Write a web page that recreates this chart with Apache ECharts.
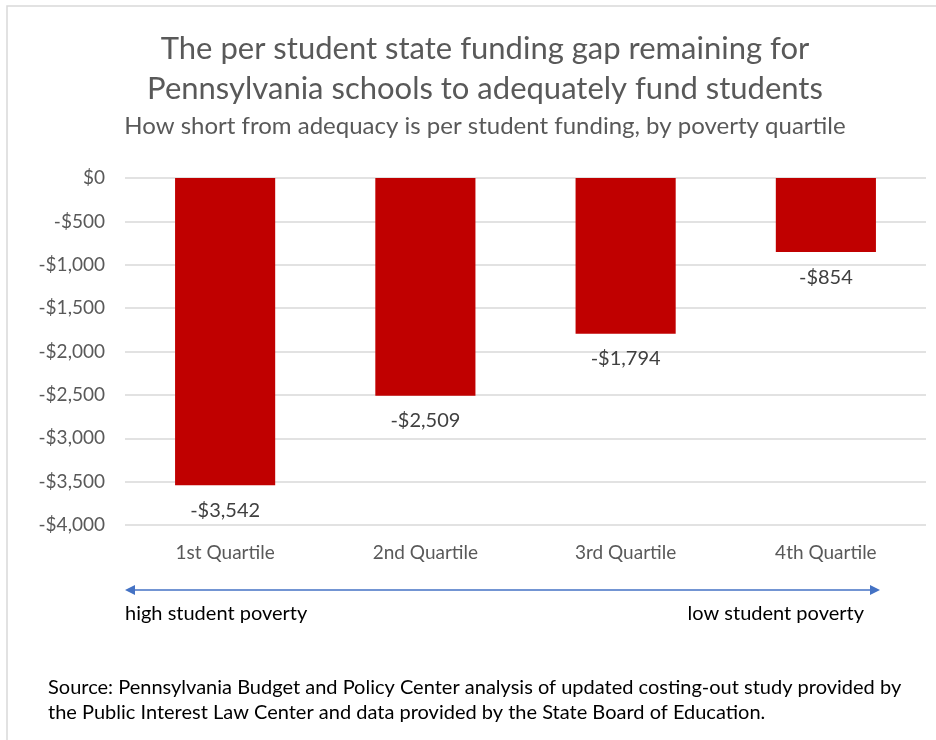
<!DOCTYPE html>
<html>
<head>
<meta charset="utf-8">
<script src="https://cdn.jsdelivr.net/npm/echarts@6/dist/echarts.min.js"></script>
<style>
  html, body { margin: 0; padding: 0; background: #fff; }
  #chart { width: 936px; height: 740px; }
</style>
</head>
<body>
<div id="chart"></div>
<script>
// Per student funding gap by poverty quartile
const quartiles = ['1st Quartile', '2nd Quartile', '3rd Quartile', '4th Quartile'];
const fundingGap = [-3542, -2509, -1794, -854];

const FONT = 'Lato, "Open Sans", sans-serif';

function money(v) {
  const s = Math.abs(v).toLocaleString('en-US');
  return (v < 0 ? '-$' : '$') + s;
}

const chart = echarts.init(document.getElementById('chart'), null, { renderer: 'canvas' });

const arrowY = 590, arrowX1 = 125, arrowX2 = 880;

chart.setOption({
  animation: false,
  backgroundColor: '#ffffff',
  title: [
    {
      text: 'The per student state funding gap remaining for\nPennsylvania schools to adequately fund students',
      left: 480, top: 24, textAlign: 'center',
      textStyle: { fontFamily: FONT, fontSize: 31, fontWeight: 'normal', color: '#595959', lineHeight: 40 }
    },
    {
      text: 'How short from adequacy is per student funding, by poverty quartile',
      left: 480, top: 109, textAlign: 'center',
      textStyle: { fontFamily: FONT, fontSize: 24, fontWeight: 'normal', color: '#595959' }
    }
  ],
  grid: { left: 125, right: 10, top: 178, bottom: 740 - 525 },
  xAxis: {
    type: 'category',
    data: quartiles,
    position: 'bottom',
    axisLine: { show: false },
    axisTick: { show: false },
    axisLabel: {
      fontFamily: FONT, fontSize: 19, color: '#595959', margin: 18
    }
  },
  yAxis: {
    type: 'value',
    min: -4000, max: 0, interval: 500,
    axisLine: { show: false },
    axisTick: { show: false },
    axisLabel: {
      fontFamily: FONT, fontSize: 19, color: '#595959', margin: 20,
      formatter: money
    },
    splitLine: { lineStyle: { color: '#d9d9d9', width: 1.5 } }
  },
  series: [{
    type: 'bar',
    data: fundingGap,
    barWidth: '50%',
    itemStyle: { color: '#c00000' },
    label: {
      show: true,
      position: 'bottom',
      distance: 15,
      fontFamily: FONT, fontSize: 20, color: '#404040',
      formatter: p => money(p.value)
    }
  }],
  graphic: [
    // outer chart frame
    {
      type: 'rect', silent: true,
      shape: { x: 7, y: 6, width: 940, height: 750 },
      style: { fill: null, stroke: '#d9d9d9', lineWidth: 1.5 }
    },
    // poverty direction arrow
    {
      type: 'line', silent: true,
      shape: { x1: arrowX1 + 6, y1: arrowY, x2: arrowX2 - 6, y2: arrowY },
      style: { stroke: '#4472c4', lineWidth: 1.5 }
    },
    {
      type: 'polygon', silent: true,
      shape: { points: [[arrowX1, arrowY], [arrowX1 + 10, arrowY - 5], [arrowX1 + 10, arrowY + 5]] },
      style: { fill: '#4472c4' }
    },
    {
      type: 'polygon', silent: true,
      shape: { points: [[arrowX2, arrowY], [arrowX2 - 10, arrowY - 5], [arrowX2 - 10, arrowY + 5]] },
      style: { fill: '#4472c4' }
    },
    {
      type: 'text', silent: true, left: 125, top: 604,
      style: { text: 'high student poverty', font: '20px ' + FONT, fill: '#000000' }
    },
    {
      type: 'text', silent: true, right: 936 - 864, top: 604,
      style: { text: 'low student poverty', font: '20px ' + FONT, fill: '#000000', textAlign: 'right' }
    },
    {
      type: 'text', silent: true, left: 48, top: 675,
      style: {
        text: 'Source: Pennsylvania Budget and Policy Center analysis of updated costing-out study provided by\nthe Public Interest Law Center and data provided by the State Board of Education.',
        font: '20px ' + FONT, fill: '#000000', lineHeight: 25
      }
    }
  ]
});
</script>
</body>
</html>
